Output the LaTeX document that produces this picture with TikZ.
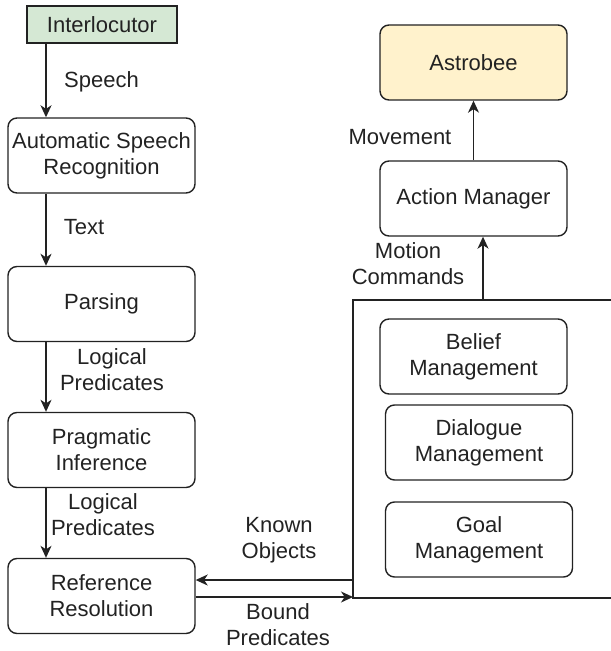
\documentclass[tikz,border=0pt]{standalone}
\usepackage{fontspec}
\setmainfont{Liberation Sans}
\usetikzlibrary{arrows.meta}
\definecolor{greenfill}{HTML}{D5E8D4}
\definecolor{yellowfill}{HTML}{FFF2CC}
\definecolor{ink}{HTML}{222222}
\begin{document}
\begin{tikzpicture}[x=0.5pt,y=-0.5pt,
  txt/.style={font=\fontsize{11}{13}\selectfont, text=ink, align=center},
  box/.style={txt, draw=ink, line width=0.7pt, rounded corners=4.5pt,
    minimum width=93.5pt, minimum height=37.5pt, inner sep=0pt},
  lab/.style={txt, inner sep=0pt},
  conn/.style={draw=ink, line width=0.7pt},
  arr/.style={conn, -{Stealth[length=6pt,width=5.5pt,inset=1.8pt]}}]
\useasboundingbox (0,0) rectangle (610,651);
% left column
\node[txt, draw=ink, line width=0.7pt, fill=greenfill, minimum width=75pt,
  minimum height=18.5pt, inner sep=0pt] (inter) at (102,24.5) {Interlocutor};
\node[box] (asr) at (101.5,155.5) {Automatic Speech\\Recognition};
\node[box] (pars) at (101.5,304) {Parsing};
\node[box] (prag) at (101.5,450) {Pragmatic\\Inference};
\node[box] (ref) at (101.5,596) {Reference\\Resolution};
% right column
\node[box, fill=yellowfill] (astro) at (473.5,62.5) {Astrobee};
\node[box] (act) at (473.5,198.5) {Action Manager};
\node[box] (belief) at (473.5,356.5) {Belief\\Management};
\node[box] (dial) at (479,442.5) {Dialogue\\Management};
\node[box] (goal) at (479,539.5) {Goal\\Management};
% container (open on the right)
\coordinate (btl) at (353,300);
\coordinate (bbl) at (353,598);
\coordinate (btr) at (612,300);
\coordinate (bbr) at (612,598);
\draw[conn] (btr) -- (btl) -- (bbl) -- (bbr);
% vertical flow
\coordinate (cL) at (46,0);
\draw[arr] (inter.south -| cL) -- (asr.north -| cL);
\draw[arr] (asr.south -| cL) -- (pars.north -| cL);
\draw[arr] (pars.south -| cL) -- (prag.north -| cL);
\draw[arr] (prag.south -| cL) -- (ref.north -| cL);
\draw[arr] (act) -- (astro);
\coordinate (mc) at (483,300);
\draw[arr] (mc) -- (act.south -| mc);
% horizontal exchanges
\coordinate (ko) at (353,580);
\draw[arr] (ko) -- (ref.east |- ko);
\coordinate (bp) at (353,597);
\draw[arr] (ref.east |- bp) -- (bp);
% labels
\node[lab] (lsp) at (101.5,82) {Speech};
\node[lab] (ltx) at (84,227) {Text};
\node[lab] (llp1) at (112,370) {Logical\\Predicates};
\node[lab] (llp2) at (103,515) {Logical\\Predicates};
\node[lab] (lko) at (279,540) {Known\\Objects};
\node[lab] (lbp) at (278,625) {Bound\\Predicates};
\node[lab] (lmv) at (400,137) {Movement};
\node[lab] (lmc) at (408,264) {Motion\\Commands};
\end{tikzpicture}
\end{document}
